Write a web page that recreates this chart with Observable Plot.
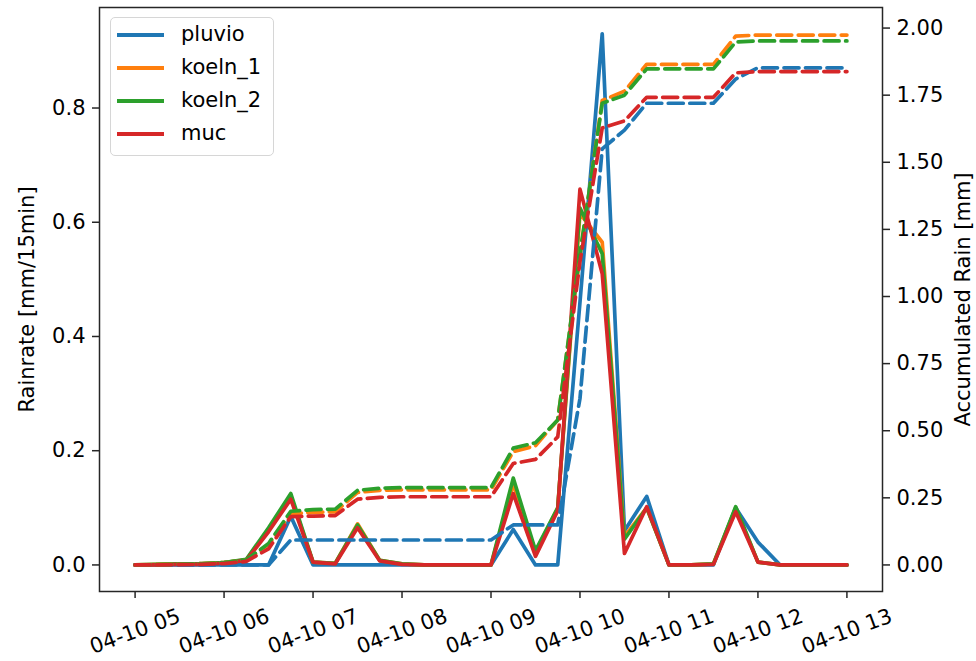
<!DOCTYPE html>
<html><head><meta charset="utf-8">
<script src="https://cdn.jsdelivr.net/npm/d3@7"></script>
<script src="https://cdn.jsdelivr.net/npm/@observablehq/plot@0.6"></script>
<style>
body{margin:0;background:#fff;}
#wrap{position:relative;width:976px;height:661px;font-family:"DejaVu Sans",sans-serif;}
#legend{position:absolute;left:110px;top:17px;width:162px;height:137px;border:1px solid #d6d6d6;border-radius:5px;background:rgba(255,255,255,0.8);}
.item{position:absolute;left:0;height:0;}
.item .sw{position:absolute;left:6px;width:47px;height:4px;top:-2px;}
.item .lb{position:absolute;left:70px;top:-14px;font-size:21px;line-height:26px;white-space:nowrap;color:#000;}
</style></head>
<body>
<div id="wrap"><div id="chart"></div><div id="legend"></div></div>
<script>
const times = ["05:00","05:15","05:30","05:45","06:00","06:15","06:30","06:45","07:00","07:15","07:30","07:45","08:00","08:15","08:30","08:45","09:00","09:15","09:30","09:45","10:00","10:15","10:30","10:45","11:00","11:15","11:30","11:45","12:00","12:15","12:30","12:45","13:00"];
const seriesNames = ["pluvio","koeln_1","koeln_2","muc"];
const seriesColors = ["#1f77b4","#ff7f0e","#2ca02c","#d62728"];

// Rain rate [mm/15min]
const rate_pluvio = [0,0,0,0,0,0,0,0.085,0,0,0,0,0,0,0,0,0,0.062,0,0,0.46,0.93,0.06,0.12,0,0,0,0.1,0.04,0,0,0,0];
const rate_koeln1 = [0,0.001,0.002,0.002,0.004,0.009,0.062,0.12,0.005,0.003,0.072,0.008,0.002,0,0,0,0,0.142,0.022,0.1,0.615,0.565,0.05,0.1,0,0,0.002,0.1,0.005,0,0,0,0];
const rate_koeln2 = [0,0.001,0.002,0.002,0.004,0.01,0.065,0.125,0.005,0.003,0.07,0.008,0.002,0,0,0,0,0.152,0.025,0.1,0.625,0.545,0.045,0.1,0,0,0.002,0.102,0.005,0,0,0,0];
const rate_muc    = [0,0,0.001,0.001,0.003,0.008,0.058,0.115,0.005,0.002,0.065,0.007,0.001,0,0,0,0,0.125,0.015,0.095,0.658,0.51,0.02,0.102,0,0,0.001,0.093,0.005,0,0,0,0];

// Accumulated rain [mm]
const acc_pluvio = [0,0,0,0,0,0,0,0.093,0.093,0.093,0.093,0.093,0.093,0.093,0.093,0.093,0.093,0.149,0.149,0.149,0.62,1.55,1.62,1.72,1.72,1.72,1.72,1.81,1.852,1.852,1.852,1.852,1.852];
const acc_koeln1 = [0,0.001,0.003,0.005,0.009,0.018,0.075,0.19,0.196,0.198,0.27,0.278,0.28,0.28,0.28,0.28,0.28,0.422,0.444,0.54,1.15,1.73,1.765,1.865,1.865,1.865,1.865,1.97,1.974,1.974,1.974,1.974,1.974];
const acc_koeln2 = [0,0.001,0.003,0.005,0.009,0.019,0.08,0.2,0.206,0.208,0.278,0.286,0.288,0.288,0.288,0.288,0.288,0.435,0.455,0.54,1.16,1.72,1.75,1.848,1.848,1.848,1.848,1.948,1.952,1.952,1.952,1.952,1.952];
const acc_muc    = [0,0,0.001,0.002,0.005,0.013,0.06,0.18,0.182,0.184,0.245,0.252,0.254,0.254,0.254,0.254,0.254,0.378,0.393,0.477,1.13,1.628,1.654,1.742,1.742,1.742,1.742,1.833,1.838,1.838,1.838,1.838,1.838];

const leftTicks = [0,0.2,0.4,0.6,0.8];
const rightTicks = [0,0.25,0.5,0.75,1.0,1.25,1.5,1.75,2.0];
const xTickTimes = ["05:00","06:00","07:00","08:00","09:00","10:00","11:00","12:00","13:00"];
const xTickLabels = ["04-10 05","04-10 06","04-10 07","04-10 08","04-10 09","04-10 10","04-10 11","04-10 12","04-10 13"];

const parse = t => new Date(`2021-04-10T${t}:00Z`);
const K = 0.47; // right-axis units -> left-axis units (twin axis)
const rates = [rate_pluvio, rate_koeln1, rate_koeln2, rate_muc];
const accs = [acc_pluvio, acc_koeln1, acc_koeln2, acc_muc];
const rateRows = [], accRows = [];
seriesNames.forEach((s, j) => {
  rates[j].forEach((v, i) => rateRows.push({time: parse(times[i]), series: s, value: v}));
  accs[j].forEach((v, i) => accRows.push({time: parse(times[i]), series: s, value: v}));
});
const xTicks = xTickTimes.map(parse);
const tickLabelOf = new Map(xTicks.map((d, i) => [+d, xTickLabels[i]]));
const FS = 21;

const chart = Plot.plot({
  width: 976, height: 661,
  marginLeft: 99, marginRight: 94, marginTop: 7, marginBottom: 70,
  style: {fontFamily: "DejaVu Sans, sans-serif", fontSize: FS + "px", color: "#000", background: "#fff"},
  x: {type: "utc", domain: [parse("04:36"), parse("13:24")]},
  y: {domain: [-0.0465, 0.976]},
  color: {domain: seriesNames, range: seriesColors},
  marks: [
    Plot.line(rateRows, {x: "time", y: "value", z: "series", stroke: "series", strokeWidth: 3.7, strokeLinejoin: "round"}),
    Plot.line(accRows, {x: "time", y: d => d.value * K, z: "series", stroke: "series", strokeWidth: 3.7, strokeDasharray: "15,6.5", strokeLinejoin: "round"}),
    Plot.frame({stroke: "#262626", strokeWidth: 1.5}),
    Plot.axisX(xTicks, {tickSize: 7, tickFormat: () => "", label: null, stroke: "#262626", strokeWidth: 1.5}),
    Plot.text(xTicks, {x: d => d, frameAnchor: "bottom", dy: 40, rotate: -20, text: d => tickLabelOf.get(+d), textAnchor: "middle", lineAnchor: "middle", fontSize: FS, fill: "#000"}),
    Plot.axisY({anchor: "left", ticks: leftTicks, tickFormat: d3.format(".1f"), tickSize: 7, tickPadding: 7, label: null, fontSize: FS, stroke: "#262626", strokeWidth: 1.5, fill: "#000"}),
    Plot.axisY({anchor: "right", ticks: rightTicks.map(v => v * K), tickFormat: d => (d / K).toFixed(2), tickSize: 7, tickPadding: 7, label: null, fontSize: FS, stroke: "#262626", strokeWidth: 1.5, fill: "#000"}),
    Plot.text(["Rainrate [mm/15min]"], {frameAnchor: "left", dx: -72, rotate: -90, textAnchor: "middle", lineAnchor: "middle", fontSize: FS, fill: "#000"}),
    Plot.text(["Accumulated Rain [mm]"], {frameAnchor: "right", dx: 81, rotate: -90, textAnchor: "middle", lineAnchor: "middle", fontSize: FS, fill: "#000"})
  ]
});
document.getElementById("chart").appendChild(chart);

const legend = document.getElementById("legend");
const rowY = [17, 50, 83, 116];
seriesNames.forEach((s, j) => {
  const it = document.createElement("div");
  it.className = "item";
  it.style.top = rowY[j] + "px";
  it.innerHTML = `<div class="sw" style="background:${seriesColors[j]}"></div><div class="lb">${s}</div>`;
  legend.appendChild(it);
});
</script>
</body></html>
